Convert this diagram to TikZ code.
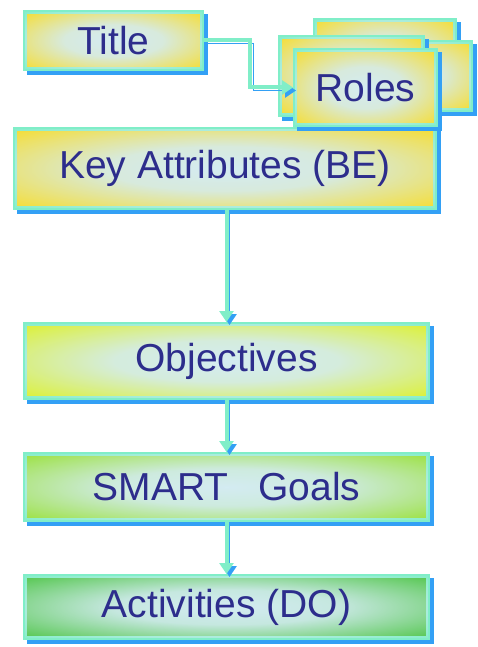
\documentclass[tikz,border=0pt]{standalone}
\usepackage{fontspec}
\setmainfont{Liberation Sans}
\usetikzlibrary{fadings,arrows.meta}

\definecolor{edgecyan}{RGB}{128,238,200}
\definecolor{shadowblue}{RGB}{51,160,245}
\definecolor{cardyellow}{RGB}{250,220,30}
\definecolor{limeyellow}{RGB}{222,242,30}
\definecolor{leafgreen}{RGB}{150,225,45}
\definecolor{deepgreen}{RGB}{70,195,60}
\definecolor{glowblue}{RGB}{212,236,242}
\definecolor{inkblue}{RGB}{45,45,140}

% mask for the soft light patch in the middle of every card:
% white = opaque, black = transparent
\pgfdeclareradialshading{glowmask}{\pgfpointorigin}{color(0bp)=(white);
  color(14bp)=(white!90!black); color(38bp)=(black); color(50bp)=(black)}
\pgfdeclarefading{glowfade}{\pgfuseshading{glowmask}}

\tikzset{
  card/.style={draw=edgecyan, line width=4pt, inner sep=0pt, fill=#1,
    font=\fontsize{39}{42}\selectfont, text=inkblue,
    preaction={draw=shadowblue, fill=shadowblue,
      transform canvas={shift={(4pt,-4pt)}}},
    postaction={fill=glowblue, path fading=glowfade}},
  link/.style={draw=edgecyan, line width=4pt,
    -{Triangle[width=14pt,length=11pt]},
    preaction={draw=shadowblue, transform canvas={shift={(3pt,-3pt)}}}}
}

\begin{document}
\begin{tikzpicture}[x=1pt,y=-1pt]
\useasboundingbox (0,0) rectangle (477,647);

% header card
\node[card=cardyellow, minimum width=177pt, minimum height=57pt]
  (title) at (113.5,40.5) {Title};

% main attribute card
\node[card=cardyellow, minimum width=420pt, minimum height=79pt]
  (attr) at (225,168.5) {Key Attributes (BE)};

% stack of role cards, back to front
\node[card=cardyellow, minimum width=140pt, minimum height=75pt]
  (roleback) at (385,57.5) {};
\node[card=cardyellow, minimum width=134pt, minimum height=68pt]
  (roleright) at (404,76) {};
\node[card=cardyellow, minimum width=143pt, minimum height=78pt]
  (rolemid) at (351.5,76) {};
\node[card=cardyellow, minimum width=141pt, minimum height=75pt]
  (roles) at (365.5,87.5) {Roles};

% chain of planning cards
\node[card=limeyellow, minimum width=403pt, minimum height=74pt]
  (obj) at (226.5,361) {Objectives};
\node[card=leafgreen, minimum width=403pt, minimum height=66pt]
  (smart) at (226.5,487) {SMART\hspace{0.77em}Goals};
\node[card=deepgreen, minimum width=403pt, minimum height=62pt]
  (act) at (226.5,607) {Activities (DO)};

% connectors
\draw[link] (title.east) -- ++(46,0) |- (roles.west);
\draw[link] (attr.south -| obj.north) -- (obj.north);
\draw[link] (obj.south) -- (smart.north);
\draw[link] (smart.south) -- (act.north);
\end{tikzpicture}
\end{document}
